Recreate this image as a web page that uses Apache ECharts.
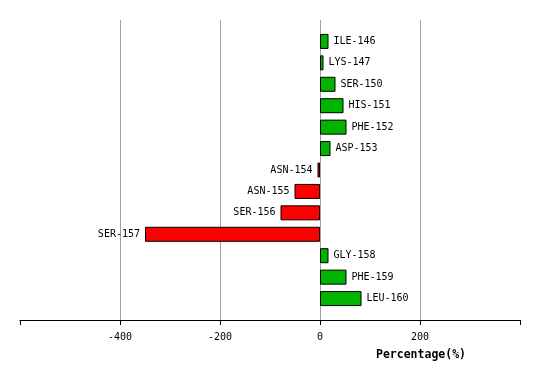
<!DOCTYPE html>
<html>
<head>
<meta charset="utf-8">
<script src="https://cdn.jsdelivr.net/npm/echarts@6/dist/echarts.min.js"></script>
<style>html,body{margin:0;padding:0;background:#fff}#c{width:540px;height:380px}</style>
</head>
<body>
<div id="c"></div>
<script>
var categories = ['ILE-146','LYS-147','SER-150','HIS-151','PHE-152','ASP-153','ASN-154','ASN-155','SER-156','SER-157','GLY-158','PHE-159','LEU-160'];
var values = [17, 7, 31, 47, 53, 21, -5, -51, -79, -350, 17, 53, 83];
var xTicks = [-400, -200, 0, 200];
var xName = 'Percentage(%)';

var cats = [''].concat(categories).concat(['']);
var data = [null];
values.forEach(function (v) {
  data.push({
    value: v,
    itemStyle: { color: v >= 0 ? '#00b400' : '#ff0000' },
    label: { position: v >= 0 ? 'right' : 'left' }
  });
});
data.push(null);

var chart = echarts.init(document.getElementById('c'), null, { renderer: 'canvas' });
chart.setOption({
  animation: false,
  backgroundColor: '#ffffff',
  grid: { left: 20, right: 20, top: 20, bottom: 60 },
  xAxis: {
    type: 'value', min: -600, max: 400, interval: 200,
    axisLine: { show: true, onZero: false, lineStyle: { color: '#000', width: 1 } },
    axisTick: { show: true, length: 5, lineStyle: { color: '#000' } },
    axisLabel: {
      margin: 12, color: '#000', fontFamily: 'DejaVu Sans Mono', fontSize: 10,
      formatter: function (v) { return xTicks.indexOf(v) >= 0 ? String(v) : ''; }
    },
    splitLine: { show: true, showMinLine: false, showMaxLine: false, lineStyle: { color: '#a0a0a0', width: 1 } }
  },
  yAxis: {
    type: 'category', data: cats, inverse: true, boundaryGap: false,
    axisLine: { show: false }, axisTick: { show: false }, axisLabel: { show: false },
    splitLine: { show: false }
  },
  graphic: [{
    type: 'text', left: 376, top: 349,
    style: { text: xName, font: 'bold 11.5px "DejaVu Sans Mono"', fill: '#000' }
  }],
  series: [{
    type: 'bar', data: data, barWidth: 15,
    itemStyle: { borderColor: '#000', borderWidth: 1 },
    label: {
      show: true, formatter: '{b}', distance: 5, color: '#000',
      fontFamily: 'DejaVu Sans Mono', fontSize: 10
    }
  }]
});
</script>
</body>
</html>
